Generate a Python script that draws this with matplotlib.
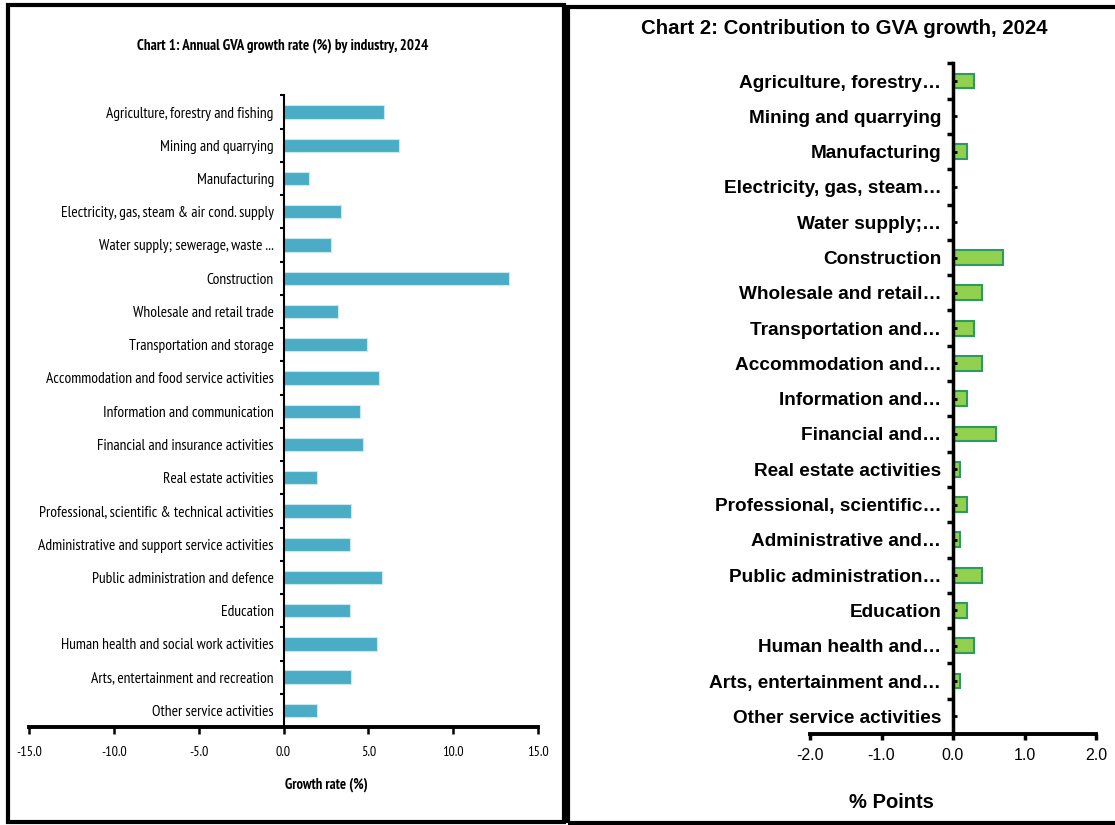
import matplotlib.pyplot as plt
from matplotlib import font_manager
from matplotlib.patches import Rectangle

# chart 1 data - annual GVA growth rate (%)
industries = ["Agriculture, forestry and fishing", "Mining and quarrying", "Manufacturing",
              "Electricity, gas, steam & air cond. supply", "Water supply; sewerage, waste ...",
              "Construction", "Wholesale and retail trade", "Transportation and storage",
              "Accommodation and food service activities", "Information and communication",
              "Financial and insurance activities", "Real estate activities",
              "Professional, scientific & technical activities",
              "Administrative and support service activities",
              "Public administration and defence", "Education",
              "Human health and social work activities", "Arts, entertainment and recreation",
              "Other service activities"]
growth = [5.9, 6.8, 1.5, 3.4, 2.8, 13.3, 3.2, 4.9, 5.6, 4.5, 4.7, 2.0, 4.0, 3.9, 5.8, 3.9, 5.5, 4.0, 2.0]

# chart 2 data - contribution to GVA growth (% points)
short_names = ["Agriculture, forestry\u2026", "Mining and quarrying", "Manufacturing",
               "Electricity, gas, steam\u2026", "Water supply;\u2026", "Construction",
               "Wholesale and retail\u2026", "Transportation and\u2026", "Accommodation and\u2026",
               "Information and\u2026", "Financial and\u2026", "Real estate activities",
               "Professional, scientific\u2026", "Administrative and\u2026",
               "Public administration\u2026", "Education", "Human health and\u2026",
               "Arts, entertainment and\u2026", "Other service activities"]
contrib = [0.3, 0.0, 0.2, 0.0, 0.0, 0.7, 0.4, 0.3, 0.4, 0.2, 0.6, 0.1, 0.2, 0.1, 0.4, 0.2, 0.3, 0.1, 0.0]

growth_ticks = [-15, -10, -5, 0, 5, 10, 15]
contrib_ticks = [-2, -1, 0, 1, 2]

# pick fonts that are actually installed
installed = {f.name for f in font_manager.fontManager.ttflist}
def pick(cands):
    for c in cands:
        if c in installed:
            return [c, "DejaVu Sans"]
    return ["DejaVu Sans"]

narrow = pick(["Liberation Sans Narrow", "Arial Narrow", "PT Sans Narrow", "Archivo Narrow",
               "Roboto Condensed", "Asap Condensed"])
arial = pick(["Liberation Sans", "Arimo", "Arial", "Helvetica", "Roboto"])

W, H = 1115, 825
fig = plt.figure(figsize=(11.15, 8.25), dpi=100)

# panel frames
fig.add_artist(Rectangle((8 / W, 1 - 822 / H), 556 / W, 817 / H, transform=fig.transFigure,
                         fill=False, lw=3, ec="black"))
fig.add_artist(Rectangle((568 / W, 1 - 823 / H), 560 / W, 816 / H, transform=fig.transFigure,
                         fill=False, lw=3, ec="black"))

n = len(industries)
pos = list(range(n))
bounds = [p + 0.5 for p in pos[:-1]] + [-0.5]

# ---- chart 1 ----
ax1 = fig.add_axes([29 / W, 1 - 727 / H, (538 - 29) / W, (727 - 95.4) / H])
for s in ["top", "right"]:
    ax1.spines[s].set_visible(False)
ax1.spines["left"].set_position(("data", 0))
ax1.spines["left"].set_linewidth(1.5)
ax1.spines["bottom"].set_linewidth(2.8)
ax1.barh(pos, growth, height=0.4, color="#4BACC6", edgecolor="#c9e8f0", linewidth=0.8)
ax1.set_xlim(-15, 15)
ax1.set_ylim(n - 0.5, -0.5)
ax1.set_xticks(growth_ticks)
ax1.set_xticklabels([f"{v:.1f}" for v in growth_ticks])
ax1.set_yticks(bounds)
ax1.set_yticklabels([])
ax1.set_yticks(pos, minor=True)
ax1.set_yticklabels(industries, minor=True)
ax1.tick_params(axis="y", which="minor", length=0, pad=7, labelsize=10, labelfontfamily=narrow[0])
ax1.tick_params(axis="y", which="major", length=3, width=1.5, direction="out")
ax1.tick_params(axis="x", length=5, width=1.8, direction="out", pad=9, labelsize=9,
                labelfontfamily=narrow[0])
t1 = fig.text(283 / W, 1 - 46 / H, "Chart 1: Annual GVA growth rate (%) by industry, 2024",
              family=narrow, fontsize=10, fontweight="bold", ha="center", va="center")
t2 = fig.text(326 / W, 1 - 785 / H, "Growth rate (%)", family=narrow, fontsize=10,
              fontweight="bold", ha="center", va="center")

# ---- chart 2 ----
ax2 = fig.add_axes([810 / W, 1 - 734 / H, (1096 - 810) / W, (734 - 63.4) / H])
for s in ["top", "right"]:
    ax2.spines[s].set_visible(False)
ax2.spines["left"].set_position(("data", 0))
ax2.spines["left"].set_linewidth(2.5)
ax2.spines["bottom"].set_linewidth(2.8)
ax2.barh(pos, contrib, height=0.42, color="#92D050", edgecolor="#2E9B5E", linewidth=1.5)
ax2.set_xlim(-2, 2)
ax2.set_ylim(n - 0.5, -0.5)
ax2.set_xticks(contrib_ticks)
ax2.set_xticklabels([f"{v:.1f}" for v in contrib_ticks])
ax2.set_yticks(bounds)
ax2.set_yticklabels([])
ax2.set_yticks(pos, minor=True)
ax2.set_yticklabels(short_names, minor=True)
ax2.tick_params(axis="y", which="minor", length=3, width=2, direction="in", pad=8.5,
                labelsize=13.7, labelfontfamily=arial[0])
ax2.tick_params(axis="y", which="major", length=4, width=2.5, direction="out")
ax2.tick_params(axis="x", length=4, width=2.5, direction="out", pad=6, labelsize=11.5,
                labelfontfamily=arial[0])
for lab in ax2.get_yticklabels(minor=True):
    lab.set_fontweight("bold")
fig.text(844 / W, 1 - 28 / H, "Chart 2: Contribution to GVA growth, 2024",
         family=arial, fontsize=14.7, fontweight="bold", ha="center", va="center")
fig.text(891 / W, 1 - 803 / H, "% Points", family=arial, fontsize=14.5,
         fontweight="bold", ha="center", va="center")

# size the narrow chart-1 texts so their widths match the original
fig.canvas.draw()
r = fig.canvas.get_renderer()
def scaled(txt, target):
    return txt.get_fontsize() * target / txt.get_window_extent(r).width

longest = ax1.get_yticklabels(minor=True)[12]
label_size = scaled(longest, 235)
ax1.tick_params(axis="y", which="minor", labelsize=label_size)
ax1.tick_params(axis="x", labelsize=label_size * 0.92)
for lab in ax1.get_yticklabels(minor=True):
    lab.set_fontweight("medium")
t1.set_fontsize(scaled(t1, 291))
t2.set_fontsize(scaled(t2, 83))

fig.savefig("out.png", dpi=100)
